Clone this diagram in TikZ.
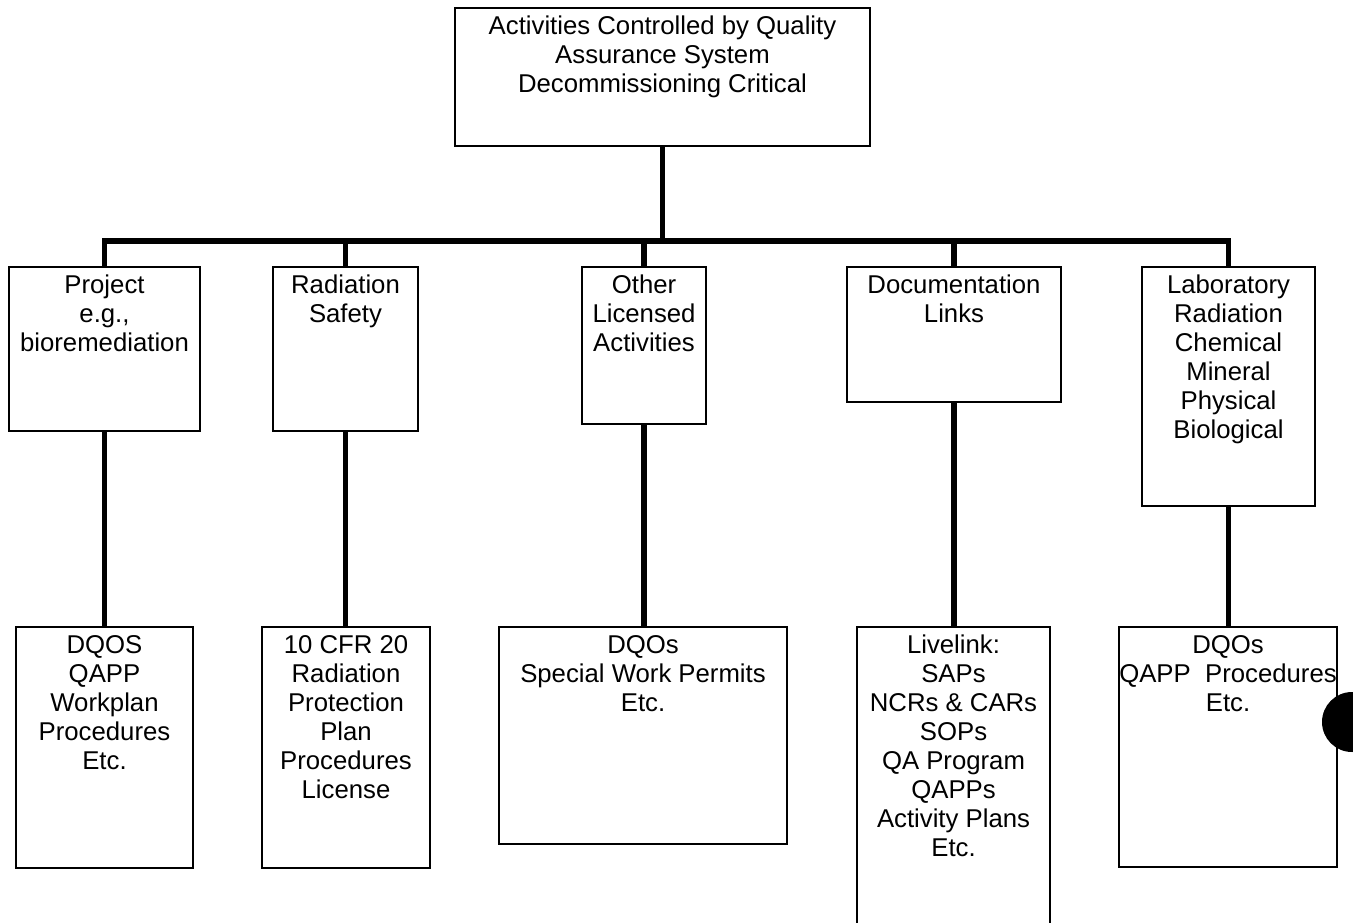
\documentclass[tikz,border=0pt]{standalone}
\usepackage{fontspec}
\setmainfont{Liberation Sans}
\usetikzlibrary{fit,positioning}

\begin{document}
\begin{tikzpicture}[x=0.75pt, y=-0.75pt, line join=miter,
		box/.style={draw, rectangle, line width=1.3pt, inner sep=0pt},
		txt/.style={align=center, inner sep=0pt, font=\fontsize{19.3}{21.75}\selectfont},
		conn/.style={line width=4pt}]
			\def\busy{241}\def\gap{6.5pt}
			\useasboundingbox (0,0) rectangle (1353,922);
			\clip (0,0) rectangle (1353,922);
			
			% head of the chart
			\node[box, fit={(455,8) (870,146)}] (qa) {};
			\node[txt, below=\gap of qa.north] (qat) {Activities Controlled by Quality\\Assurance System\\Decommissioning Critical};
			
			% second row
			\node[box, fit={(9,267) (200,431)}] (proj) {};
			\node[box, fit={(273,267) (418,431)}] (rad) {};
			\node[box, fit={(582,267) (706,424)}] (oth) {};
			\node[box, fit={(847,267) (1061,402)}] (doc) {};
			\node[box, fit={(1142,267) (1315,506)}] (lab) {};
			\node[txt, below=\gap of proj.north] (projt) {Project\\e.g.,\\bioremediation};
			\node[txt, below=\gap of rad.north] (radt) {Radiation\\Safety};
			\node[txt, below=\gap of oth.north] (otht) {Other\\Licensed\\Activities};
			\node[txt, below=\gap of doc.north] (doct) {Documentation\\Links};
			\node[txt, below=\gap of lab.north] (labt) {Laboratory\\Radiation\\Chemical\\Mineral\\Physical\\Biological};
			
			% third row
			\node[box, fit={(16,627) (193,868)}] (dqo) {};
			\node[box, fit={(262,627) (430,868)}] (cfr) {};
			\node[box, fit={(499,627) (787,844)}] (perm) {};
			\node[box, fit={(857,627) (1050,940)}] (live) {};
			\node[box, fit={(1119,627) (1337,867)}] (labq) {};
			\node[txt, below=\gap of dqo.north] (dqot) {DQOS\\QAPP\\Workplan\\Procedures\\Etc.};
			\node[txt, below=\gap of cfr.north] (cfrt) {10 CFR 20\\Radiation\\Protection\\Plan\\Procedures\\License};
			\node[txt, below=\gap of perm.north] (permt) {DQOs\\Special Work Permits\\Etc.};
			\node[txt, below=\gap of live.north] (livet) {Livelink:\\SAPs\\NCRs \& CARs\\SOPs\\QA Program\\QAPPs\\Activity Plans\\Etc.};
			\node[txt, below=\gap of labq.north] (labqt) {DQOs\\QAPP~~Procedures\\Etc.};
			
			% connectors
			\coordinate (bus) at (0,\busy);
			\draw[conn] (qa.south) -- (qa.south |- bus);
			\draw[conn] (proj.north) -- (proj.north |- bus) -- (lab.north |- bus) -- (lab.north);
			\foreach \n in {rad,oth,doc}
				\draw[conn] (\n.north |- bus) -- (\n.north);
			\foreach \n/\m in {proj/dqo,rad/cfr,oth/perm,doc/live,lab/labq}
				\draw[conn] (\n.south) -- (\n.south |- \m.north);
			
			%\draw[red] (0,\busy) -- (1353,\busy);
			\fill (1352,722) circle (22.5pt);
		\end{tikzpicture}
\end{document}
